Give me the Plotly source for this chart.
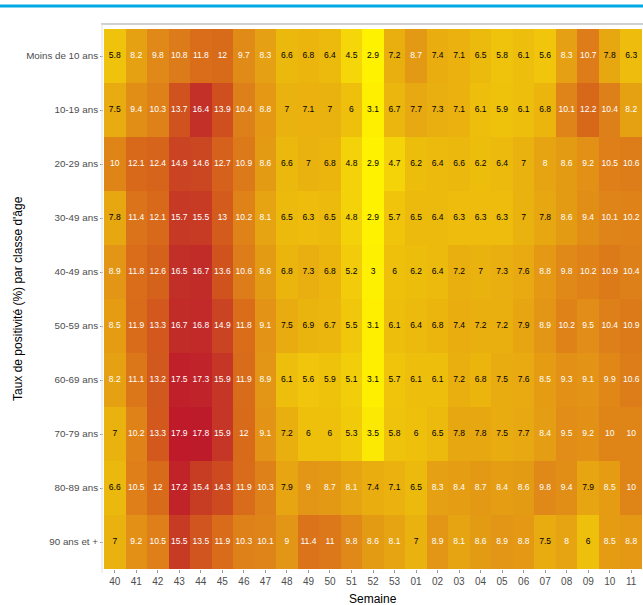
import plotly.graph_objects as go

weeks = ["40","41","42","43","44","45","46","47","48","49","50","51","52","53",
         "01","02","03","04","05","06","07","08","09","10","11"]
age_groups = ["Moins de 10 ans","10-19 ans","20-29 ans","30-49 ans","40-49 ans",
              "50-59 ans","60-69 ans","70-79 ans","80-89 ans","90 ans et +"]

moins10 = [5.8,8.2,9.8,10.8,11.8,12,9.7,8.3,6.6,6.8,6.4,4.5,2.9,7.2,8.7,7.4,7.1,6.5,5.8,6.1,5.6,8.3,10.7,7.8,6.3]
a10_19 = [7.5,9.4,10.3,13.7,16.4,13.9,10.4,8.8,7,7.1,7,6,3.1,6.7,7.7,7.3,7.1,6.1,5.9,6.1,6.8,10.1,12.2,10.4,8.2]
a20_29 = [10,12.1,12.4,14.9,14.6,12.7,10.9,8.6,6.6,7,6.8,4.8,2.9,4.7,6.2,6.4,6.6,6.2,6.4,7,8,8.6,9.2,10.5,10.6]
a30_39 = [7.8,11.4,12.1,15.7,15.5,13,10.2,8.1,6.5,6.3,6.5,4.8,2.9,5.7,6.5,6.4,6.3,6.3,6.3,7,7.8,8.6,9.4,10.1,10.2]
a40_49 = [8.9,11.8,12.6,16.5,16.7,13.6,10.6,8.6,6.8,7.3,6.8,5.2,3,6,6.2,6.4,7.2,7,7.3,7.6,8.8,9.8,10.2,10.9,10.4]
a50_59 = [8.5,11.9,13.3,16.7,16.8,14.9,11.8,9.1,7.5,6.9,6.7,5.5,3.1,6.1,6.4,6.8,7.4,7.2,7.2,7.9,8.9,10.2,9.5,10.4,10.9]
a60_69 = [8.2,11.1,13.2,17.5,17.3,15.9,11.9,8.9,6.1,5.6,5.9,5.1,3.1,5.7,6.1,6.1,7.2,6.8,7.5,7.6,8.5,9.3,9.1,9.9,10.6]
a70_79 = [7,10.2,13.3,17.9,17.8,15.9,12,9.1,7.2,6,6,5.3,3.5,5.8,6,6.5,7.8,7.8,7.5,7.7,8.4,9.5,9.2,10,10]
a80_89 = [6.6,10.5,12,17.2,15.4,14.3,11.9,10.3,7.9,9,8.7,8.1,7.4,7.1,6.5,8.3,8.4,8.7,8.4,8.6,9.8,9.4,7.9,8.5,10]
a90p = [7,9.2,10.5,15.5,13.5,11.9,10.3,10.1,9,11.4,11,9.8,8.6,8.1,7,8.9,8.1,8.6,8.9,8.8,7.5,8,6,8.5,8.8]

z = [moins10, a10_19, a20_29, a30_39, a40_49, a50_59, a60_69, a70_79, a80_89, a90p]

colorscale = [
    [0.0, "#FFF200"],
    [0.10, "#F6D808"],
    [0.19, "#EFC30B"],
    [0.27, "#EAB30E"],
    [0.35, "#E6A212"],
    [0.46, "#E08818"],
    [0.61, "#D86A1A"],
    [0.72, "#D0521E"],
    [0.90, "#C23028"],
    [1.0, "#BE1A2A"],
]

fig = go.Figure()
fig.add_trace(go.Heatmap(
    x=weeks, y=age_groups, z=z, colorscale=colorscale, zmin=2.9, zmax=17.9,
    showscale=False, xgap=0, ygap=0, hoverinfo="skip"))

tx, ty, tt, tc = [], [], [], []
for r, row in enumerate(z):
    for c, v in enumerate(row):
        tx.append(weeks[c]); ty.append(age_groups[r])
        tt.append(f"{v:g}")
        tc.append("white" if v >= 8 else "black")
fig.add_trace(go.Scatter(x=tx, y=ty, mode="text", text=tt,
                         textfont=dict(size=8.5, color=tc, family="Liberation Sans, Arial"),
                         hoverinfo="skip", showlegend=False))

W, H = 643, 605
L, R, T, B = 104, 1, 29, 36
pw, ph = W - L - R, H - T - B

def px(x):
    return (x - L) / pw

def py(y):
    return (H - B - y) / ph

fig.update_layout(
    width=W, height=H,
    margin=dict(l=L, r=R, t=T, b=B, autoexpand=False),
    plot_bgcolor="white", paper_bgcolor="white",
    font=dict(family="Liberation Sans, Arial", color="#4d4d4d"),
    showlegend=False,
    xaxis=dict(type="category", categoryorder="array", categoryarray=weeks,
               range=[-0.5, len(weeks) - 0.5], autorange=False,
               ticks="outside", ticklen=3, tickcolor="#999", showgrid=False,
               zeroline=False, tickfont=dict(size=10, color="#4d4d4d"),
               automargin=False),
    yaxis=dict(type="category", categoryorder="array",
               categoryarray=list(reversed(age_groups)),
               range=[-0.5, len(age_groups) - 0.5], autorange=False,
               ticks="outside", ticklen=3, tickcolor="#999", showgrid=False,
               zeroline=False, tickfont=dict(size=9.8, color="#4d4d4d"),
               automargin=False),
    annotations=[
        dict(text="Semaine", xref="paper", yref="paper", x=0.5, y=py(599),
             xanchor="center", yanchor="middle", showarrow=False,
             font=dict(size=12, color="black")),
        dict(text="Taux de positivité (%) par classe d'âge", xref="paper", yref="paper",
             x=px(18), y=0.5, xanchor="center", yanchor="middle", showarrow=False,
             textangle=-90, font=dict(size=12, color="black")),
    ],
    shapes=[
        dict(type="line", xref="paper", yref="paper", x0=px(0), x1=px(W), y0=py(6), y1=py(6),
             line=dict(color="#00A9E6", width=3)),
        dict(type="line", xref="paper", yref="paper", x0=px(101), x1=px(W), y0=py(24), y1=py(24),
             line=dict(color="#d0d0d0", width=2)),
        dict(type="line", xref="paper", yref="paper", x0=px(102), x1=px(102), y0=py(24), y1=py(573),
             line=dict(color="#e0e0e0", width=1)),
    ],
)

fig.write_html(
    "out.html",
    config={"displayModeBar": False},
    post_script="document.body.style.margin='0';document.body.style.overflow='hidden';",
)
